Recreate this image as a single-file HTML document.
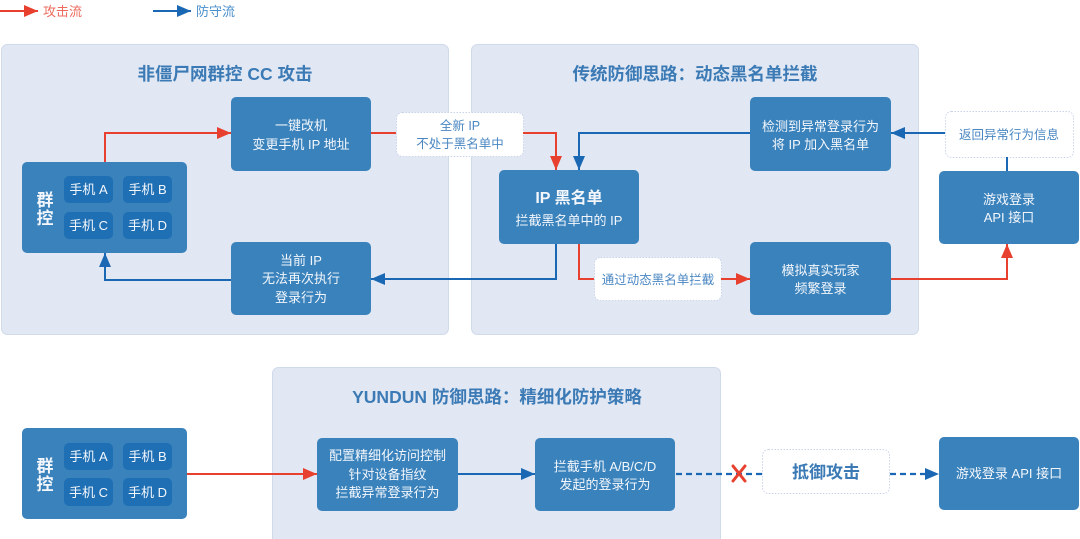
<!DOCTYPE html>
<html><head><meta charset="utf-8">
<style>
html,body{margin:0;padding:0;background:#fff;}
svg{display:block;}
text{font-family:"Liberation Sans","Noto Sans CJK SC",sans-serif;}
.bt{fill:#f3f7fc;font-size:13px;text-anchor:middle;}
.tt{fill:#3b7ab5;font-size:17.5px;font-weight:bold;text-anchor:middle;}
.lb{fill:#4a87c2;font-size:12.5px;text-anchor:middle;}
</style></head>
<body>
<svg width="1080" height="539" viewBox="0 0 1080 539" xmlns="http://www.w3.org/2000/svg">
<defs>
<marker id="ar" markerWidth="14" markerHeight="12" refX="14" refY="6" orient="auto" markerUnits="userSpaceOnUse"><path d="M0,0 L14,6 L0,12 z" fill="#e8402e"/></marker>
<marker id="ab" markerWidth="14" markerHeight="12" refX="14" refY="6" orient="auto" markerUnits="userSpaceOnUse"><path d="M0,0 L14,6 L0,12 z" fill="#1a68b3"/></marker>
</defs>

<!-- legend -->
<line x1="0" y1="11" x2="38" y2="11" stroke="#e8402e" stroke-width="2" marker-end="url(#ar)"/>
<text x="43" y="16" style="font-size:13px;fill:#ec6b5e">攻击流</text>
<line x1="153" y1="11" x2="191" y2="11" stroke="#1a68b3" stroke-width="2" marker-end="url(#ab)"/>
<text x="196" y="16" style="font-size:13px;fill:#4a8fcc">防守流</text>

<!-- panels -->
<rect x="1.5" y="44.5" width="447" height="290" rx="6" fill="#e1e8f4" stroke="#cfdaeb"/>
<rect x="471.5" y="44.5" width="447" height="290" rx="6" fill="#e1e8f4" stroke="#cfdaeb"/>
<rect x="272.5" y="367.5" width="448" height="180" rx="6" fill="#e1e8f4" stroke="#cfdaeb"/>

<text class="tt" x="225" y="80">非僵尸网群控 CC 攻击</text>
<text class="tt" x="695" y="80">传统防御思路：动态黑名单拦截</text>
<text class="tt" x="497" y="403">YUNDUN 防御思路：精细化防护策略</text>

<!-- group 1 -->
<rect x="22" y="162" width="165" height="91" rx="5" fill="#3a82bc"/>
<text x="45" y="206" style="fill:#f3f7fc;font-size:17px;font-weight:bold;text-anchor:middle">群</text>
<text x="45" y="224" style="fill:#f3f7fc;font-size:17px;font-weight:bold;text-anchor:middle">控</text>
<rect x="64" y="176" width="49" height="27" rx="5" fill="#1f6fb4"/>
<rect x="123" y="176" width="49" height="27" rx="5" fill="#1f6fb4"/>
<rect x="64" y="212" width="49" height="27" rx="5" fill="#1f6fb4"/>
<rect x="123" y="212" width="49" height="27" rx="5" fill="#1f6fb4"/>
<text class="bt" x="88.5" y="194">手机 A</text>
<text class="bt" x="147.5" y="194">手机 B</text>
<text class="bt" x="88.5" y="230">手机 C</text>
<text class="bt" x="147.5" y="230">手机 D</text>

<!-- boxes panel 1 -->
<rect x="231" y="97" width="140" height="74" rx="5" fill="#3a82bc"/>
<text class="bt" x="301" y="130">一键改机</text>
<text class="bt" x="301" y="149">变更手机 IP 地址</text>
<rect x="231" y="242" width="140" height="73" rx="5" fill="#3a82bc"/>
<text class="bt" x="301" y="265">当前 IP</text>
<text class="bt" x="301" y="283">无法再次执行</text>
<text class="bt" x="301" y="302">登录行为</text>

<!-- IP blacklist -->
<rect x="499" y="170" width="140" height="74" rx="5" fill="#3a82bc"/>
<text x="569" y="203" style="fill:#f3f7fc;font-size:16px;font-weight:bold;text-anchor:middle">IP 黑名单</text>
<text class="bt" x="569" y="225">拦截黑名单中的 IP</text>

<!-- detect & simulate -->
<rect x="750" y="97" width="141" height="74" rx="5" fill="#3a82bc"/>
<text class="bt" x="820.5" y="131">检测到异常登录行为</text>
<text class="bt" x="820.5" y="149">将 IP 加入黑名单</text>
<rect x="750" y="242" width="141" height="73" rx="5" fill="#3a82bc"/>
<text class="bt" x="820.5" y="275">模拟真实玩家</text>
<text class="bt" x="820.5" y="293">频繁登录</text>

<!-- game API 1 -->
<rect x="939" y="171" width="140" height="73" rx="5" fill="#3a82bc"/>
<text class="bt" x="1009" y="204">游戏登录</text>
<text class="bt" x="1009" y="222">API 接口</text>

<!-- labels dotted -->
<rect x="396.5" y="112.5" width="127" height="44" rx="6" fill="#fff" stroke="#c9d4ea" stroke-dasharray="1.5,1.5"/>
<text class="lb" x="460" y="130">全新 IP</text>
<text class="lb" x="460" y="148">不处于黑名单中</text>
<rect x="594.5" y="257.5" width="127" height="43" rx="6" fill="#fff" stroke="#c9d4ea" stroke-dasharray="1.5,1.5"/>
<text class="lb" x="658" y="284">通过动态黑名单拦截</text>
<rect x="945.5" y="111.5" width="128" height="46" rx="6" fill="#fff" stroke="#c9d4ea" stroke-dasharray="1.5,1.5"/>
<text class="lb" x="1009" y="139">返回异常行为信息</text>

<!-- connectors panel 1/2 -->
<polyline points="105,162 105,133 231,133" fill="none" stroke="#e8402e" stroke-width="2" marker-end="url(#ar)"/>
<line x1="371" y1="133" x2="396" y2="133" stroke="#e8402e" stroke-width="2"/>
<polyline points="523,133 556,133 556,170" fill="none" stroke="#e8402e" stroke-width="2" marker-end="url(#ar)"/>
<polyline points="231,280 105,280 105,253" fill="none" stroke="#1a68b3" stroke-width="2" marker-end="url(#ab)"/>
<polyline points="556,244 556,279 371,279" fill="none" stroke="#1a68b3" stroke-width="2" marker-end="url(#ab)"/>
<polyline points="750,133 579,133 579,170" fill="none" stroke="#1a68b3" stroke-width="2" marker-end="url(#ab)"/>
<polyline points="579,244 579,279 594,279" fill="none" stroke="#e8402e" stroke-width="2"/>
<line x1="721" y1="279" x2="750" y2="279" stroke="#e8402e" stroke-width="2" marker-end="url(#ar)"/>
<line x1="945" y1="133" x2="891" y2="133" stroke="#1a68b3" stroke-width="2" marker-end="url(#ab)"/>
<line x1="1007" y1="171" x2="1007" y2="157" stroke="#1a68b3" stroke-width="2"/>
<polyline points="891,279 1007,279 1007,244" fill="none" stroke="#e8402e" stroke-width="2" marker-end="url(#ar)"/>

<!-- bottom -->
<rect x="22" y="428" width="165" height="91" rx="5" fill="#3a82bc"/>
<text x="45" y="472" style="fill:#f3f7fc;font-size:17px;font-weight:bold;text-anchor:middle">群</text>
<text x="45" y="490" style="fill:#f3f7fc;font-size:17px;font-weight:bold;text-anchor:middle">控</text>
<rect x="64" y="443" width="49" height="27" rx="5" fill="#1f6fb4"/>
<rect x="123" y="443" width="49" height="27" rx="5" fill="#1f6fb4"/>
<rect x="64" y="478" width="49" height="28" rx="5" fill="#1f6fb4"/>
<rect x="123" y="478" width="49" height="28" rx="5" fill="#1f6fb4"/>
<text class="bt" x="88.5" y="461">手机 A</text>
<text class="bt" x="147.5" y="461">手机 B</text>
<text class="bt" x="88.5" y="497">手机 C</text>
<text class="bt" x="147.5" y="497">手机 D</text>

<rect x="317" y="438" width="141" height="73" rx="5" fill="#3a82bc"/>
<text class="bt" x="387.5" y="460">配置精细化访问控制</text>
<text class="bt" x="387.5" y="479">针对设备指纹</text>
<text class="bt" x="387.5" y="497">拦截异常登录行为</text>

<rect x="535" y="438" width="140" height="73" rx="5" fill="#3a82bc"/>
<text class="bt" x="605" y="471">拦截手机 A/B/C/D</text>
<text class="bt" x="605" y="489">发起的登录行为</text>

<rect x="939" y="437" width="140" height="73" rx="5" fill="#3a82bc"/>
<text class="bt" x="1009" y="478">游戏登录 API 接口</text>

<rect x="762.5" y="449.5" width="127" height="44" rx="6" fill="#fff" stroke="#c9d4ea" stroke-dasharray="1.5,1.5"/>
<text x="826" y="478" style="fill:#3b7ab5;font-size:17px;font-weight:bold;text-anchor:middle">抵御攻击</text>

<line x1="187" y1="474" x2="317" y2="474" stroke="#e8402e" stroke-width="2" marker-end="url(#ar)"/>
<line x1="458" y1="474" x2="535" y2="474" stroke="#1a68b3" stroke-width="2" marker-end="url(#ab)"/>
<line x1="676" y1="474" x2="762" y2="474" stroke="#1a68b3" stroke-width="2.2" stroke-dasharray="6,4"/>
<line x1="890" y1="474" x2="926" y2="474" stroke="#1a68b3" stroke-width="2.2" stroke-dasharray="6,4"/>
<path d="M925,468 L939,474 L925,480 z" fill="#1a68b3"/>
<path d="M733,466 L745,481 M745,466 L733,481" stroke="#e8402e" stroke-width="3" stroke-linecap="round"/>
</svg>
</body></html>
